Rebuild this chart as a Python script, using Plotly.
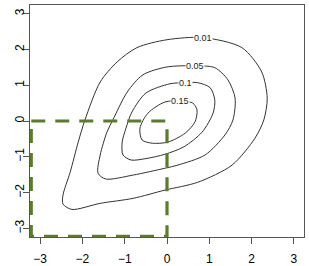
import plotly.graph_objects as go

# Contour levels and their traced outlines, clockwise from the label
levels = ["0.01", "0.05", "0.1", "0.15"]

c001_x = [0.85, 1.77, 2.24, 2.37, 2.29, 2.08, 1.54, 0.73, -0.05, -0.80, -1.58, -2.25, -2.46, -2.46, -2.29, -2.10, -1.94, -1.58, -1.18, -0.71, 0.00]
c001_y = [2.33, 2.05, 1.37, 0.64, 0.03, -0.48, -1.23, -1.71, -1.93, -2.16, -2.30, -2.47, -2.32, -2.07, -1.43, -0.59, 0.03, 1.09, 1.65, 2.05, 2.27]

c005_x = [0.66, 1.13, 1.44, 1.61, 1.56, 1.37, 0.90, 0.26, -0.05, -0.80, -1.45, -1.63, -1.58, -1.42, -1.28, -0.94, -0.57, 0.00]
c005_y = [1.54, 1.49, 1.15, 0.64, 0.03, -0.39, -0.95, -1.23, -1.32, -1.51, -1.62, -1.46, -0.95, -0.31, 0.03, 0.81, 1.29, 1.51]

c01_x = [0.43, 0.73, 1.02, 1.13, 1.09, 0.83, 0.40, -0.05, -0.50, -0.85, -1.04, -1.06, -0.97, -0.83, -0.50, 0.07]
c01_y = [1.07, 1.07, 0.93, 0.59, 0.22, -0.31, -0.72, -0.93, -1.05, -1.09, -0.95, -0.59, -0.20, 0.25, 0.78, 1.04]

c015_x = [0.31, 0.61, 0.71, 0.66, 0.43, 0.02, -0.35, -0.59, -0.64, -0.45, -0.05]
c015_y = [0.56, 0.50, 0.31, -0.03, -0.34, -0.59, -0.62, -0.53, -0.20, 0.22, 0.53]

# Highlighted region (x <= 0, y <= 0)
region_x = [-3.21, 0.0, 0.0, -3.21, -3.21]
region_y = [0.0, 0.0, -3.22, -3.22, 0.0]

ticks = [-3, -2, -1, 0, 1, 2, 3]
tick_text = ["\u22123", "\u22122", "\u22121", "0", "1", "2", "3"]
axis_range = [-3.24, 3.24]

contours = [(c001_x, c001_y), (c005_x, c005_y), (c01_x, c01_y), (c015_x, c015_y)]

fig = go.Figure()
for (cx, cy) in contours:
    fig.add_trace(go.Scatter(
        x=cx + [cx[0]], y=cy + [cy[0]], mode="lines",
        line=dict(color="#333333", width=1, shape="spline", smoothing=0.8),
        hoverinfo="skip", showlegend=False))

fig.add_trace(go.Scatter(
    x=region_x, y=region_y, mode="lines",
    line=dict(color="#5b7d2b", width=3.2, dash="14px,10px"),
    hoverinfo="skip", showlegend=False))

for lab, (cx, cy) in zip(levels, contours):
    fig.add_annotation(x=cx[0], y=cy[0], text=lab, showarrow=False,
                       font=dict(family="Liberation Sans, Arial", size=9, color="#222222"),
                       bgcolor="white", borderpad=0)

axis_common = dict(range=axis_range, tickvals=ticks, ticktext=tick_text, automargin=False,
                   showgrid=False, zeroline=False, showline=True, mirror=True,
                   linecolor="#555555", linewidth=1, ticks="outside", ticklen=6,
                   tickcolor="#555555", tickwidth=1,
                   tickfont=dict(family="Liberation Sans, Arial", size=12, color="black"))

fig.update_xaxes(**axis_common, ticklabelstandoff=5)
fig.update_yaxes(**axis_common, tickangle=-90, ticklabelstandoff=-6)

fig.update_layout(width=309, height=266, margin=dict(l=30, r=5, t=5, b=29),
                  plot_bgcolor="white", paper_bgcolor="white")

fig.write_html("out.html", config={"displayModeBar": False},
               post_script="document.body.style.margin='0';document.body.style.overflow='hidden';")
